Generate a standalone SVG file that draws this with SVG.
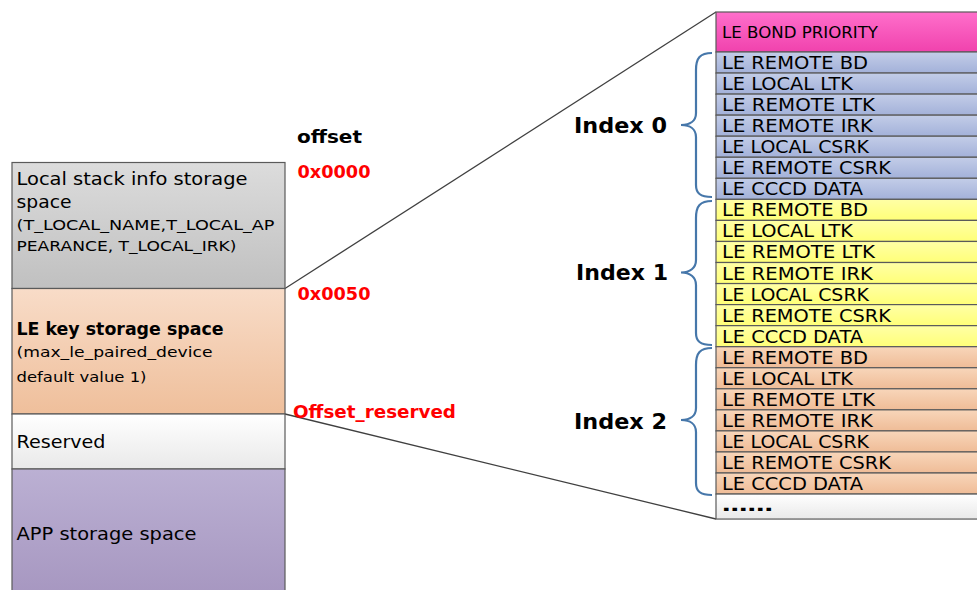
<svg xmlns="http://www.w3.org/2000/svg" width="977" height="590" viewBox="0 0 977 590">
  <style>
    .cell { stroke: #5a5a5a; stroke-width: 1.2; }
    .txt { font-family: "DejaVu Sans", "Liberation Sans", sans-serif; fill: #000; }
    .row { font-size: 17px; }
    .small { font-size: 14.5px; }
    .main { font-size: 17px; }
    .bold { font-weight: bold; }
    .red { fill: #ff0000; }
    .idx { font-size: 22px; font-weight: bold; }
    .brace { fill: none; stroke: #4677aa; stroke-width: 2.2; }
    .link { fill: none; stroke: #404040; stroke-width: 1.3; }
  </style>
  <defs>
    <linearGradient id="gGray" x1="0" y1="0" x2="0" y2="1"><stop offset="0" stop-color="#dcdcdc"/><stop offset="1" stop-color="#c0c0c0"/></linearGradient>
    <linearGradient id="gPeach" x1="0" y1="0" x2="0" y2="1"><stop offset="0" stop-color="#f8dcc8"/><stop offset="1" stop-color="#efbf9b"/></linearGradient>
    <linearGradient id="gWhite" x1="0" y1="0" x2="0" y2="1"><stop offset="0" stop-color="#ffffff"/><stop offset="1" stop-color="#e9e9e9"/></linearGradient>
    <linearGradient id="gPurple" x1="0" y1="0" x2="0" y2="1"><stop offset="0" stop-color="#bbb0d3"/><stop offset="1" stop-color="#a595bf"/></linearGradient>
    <linearGradient id="gPink" x1="0" y1="0" x2="0" y2="1"><stop offset="0" stop-color="#ff6fcb"/><stop offset="1" stop-color="#f042ad"/></linearGradient>
    <linearGradient id="gBlue" x1="0" y1="0" x2="0" y2="1"><stop offset="0" stop-color="#c3cde8"/><stop offset="1" stop-color="#a3b1d9"/></linearGradient>
    <linearGradient id="gYellow" x1="0" y1="0" x2="0" y2="1"><stop offset="0" stop-color="#ffffa6"/><stop offset="1" stop-color="#ffff78"/></linearGradient>
    <linearGradient id="gOrange" x1="0" y1="0" x2="0" y2="1"><stop offset="0" stop-color="#f8d6ba"/><stop offset="1" stop-color="#efbc97"/></linearGradient>
  </defs>

  <!-- connectors: zoom lines and index braces -->
  <g id="connectors">
    <path class="link" d="M285,288.5 L716,12"/>
    <path class="link" d="M285,414 L716,519"/>
    <path class="brace" d="M712,53 C700,53 696,58 696,70 L696,113 C696,121 690,125 681,125 C690,125 696,129 696,137 L696,185 C696,193 700,197 712,197"/>
    <path class="brace" d="M712,201 C700,201 696,206 696,218 L696,260 C696,268 690,272.5 681,272.5 C690,272.5 696,277 696,285 L696,333 C696,341 700,345 712,345"/>
    <path class="brace" d="M712,348 C700,348 696,353 696,365 L696,408 C696,416 690,420 681,420 C690,420 696,424 696,432 L696,483 C696,491 700,495 712,495"/>
  </g>

  <!-- memory map (left column) -->
  <g id="local-stack">
    <rect class="cell" x="12" y="162.5" width="273" height="126" fill="url(#gGray)"/>
    <text class="txt main" x="16.5" y="185" textLength="231" lengthAdjust="spacingAndGlyphs">Local stack info storage</text>
    <text class="txt main" x="16.5" y="208" textLength="55" lengthAdjust="spacingAndGlyphs">space</text>
    <text class="txt small" x="16.5" y="230" textLength="258" lengthAdjust="spacingAndGlyphs">(T_LOCAL_NAME,T_LOCAL_AP</text>
    <text class="txt small" x="16.5" y="250.5" textLength="220" lengthAdjust="spacingAndGlyphs">PEARANCE, T_LOCAL_IRK)</text>
  </g>
  <g id="le-key">
    <rect class="cell" x="12" y="288.5" width="273" height="125.5" fill="url(#gPeach)"/>
    <text class="txt main bold" x="16.5" y="335" textLength="207" lengthAdjust="spacingAndGlyphs">LE key storage space</text>
    <text class="txt small" x="16.5" y="357" textLength="196" lengthAdjust="spacingAndGlyphs">(max_le_paired_device</text>
    <text class="txt small" x="16.5" y="382" textLength="130" lengthAdjust="spacingAndGlyphs">default value 1)</text>
  </g>
  <g id="reserved">
    <rect class="cell" x="12" y="414" width="273" height="55" fill="url(#gWhite)"/>
    <text class="txt main" x="16.5" y="448" textLength="89" lengthAdjust="spacingAndGlyphs">Reserved</text>
  </g>
  <g id="app-storage">
    <rect class="cell" x="12" y="469" width="273" height="135" fill="url(#gPurple)"/>
    <text class="txt main" x="16.5" y="540" textLength="180" lengthAdjust="spacingAndGlyphs">APP storage space</text>
  </g>

  <!-- offsets -->
  <g id="offsets">
    <text class="txt bold" x="297" y="143" font-size="18" textLength="65" lengthAdjust="spacingAndGlyphs">offset</text>
    <text class="txt bold red" x="297.5" y="178" font-size="17" textLength="73" lengthAdjust="spacingAndGlyphs">0x0000</text>
    <text class="txt bold red" x="297.5" y="300" font-size="17" textLength="73" lengthAdjust="spacingAndGlyphs">0x0050</text>
    <text class="txt bold red" x="293" y="418" font-size="17" textLength="163" lengthAdjust="spacingAndGlyphs">Offset_reserved</text>
  </g>

  <!-- index labels -->
  <g id="index-labels">
    <text class="txt idx" x="574" y="133" textLength="93" lengthAdjust="spacingAndGlyphs">Index 0</text>
    <text class="txt idx" x="576" y="280" textLength="92" lengthAdjust="spacingAndGlyphs">Index 1</text>
    <text class="txt idx" x="574" y="429" textLength="93" lengthAdjust="spacingAndGlyphs">Index 2</text>
  </g>

  <!-- key table (right) -->
  <g id="bond-priority">
    <rect class="cell" x="716" y="12" width="275" height="40" fill="url(#gPink)"/>
    <text class="txt" x="722" y="38" font-size="15" textLength="156" lengthAdjust="spacingAndGlyphs">LE BOND PRIORITY</text>
  </g>

  <g id="index0-rows">
    <rect class="cell" x="716" y="52" width="275" height="21.05" fill="url(#gBlue)"/>
    <rect class="cell" x="716" y="73.05" width="275" height="21.05" fill="url(#gBlue)"/>
    <rect class="cell" x="716" y="94.1" width="275" height="21.05" fill="url(#gBlue)"/>
    <rect class="cell" x="716" y="115.15" width="275" height="21.05" fill="url(#gBlue)"/>
    <rect class="cell" x="716" y="136.2" width="275" height="21.05" fill="url(#gBlue)"/>
    <rect class="cell" x="716" y="157.25" width="275" height="21.05" fill="url(#gBlue)"/>
    <rect class="cell" x="716" y="178.3" width="275" height="21.05" fill="url(#gBlue)"/>
    <text class="txt row" x="722" y="69" textLength="146" lengthAdjust="spacingAndGlyphs">LE REMOTE BD</text>
    <text class="txt row" x="722" y="90.05" textLength="131" lengthAdjust="spacingAndGlyphs">LE LOCAL LTK</text>
    <text class="txt row" x="722" y="111.1" textLength="153" lengthAdjust="spacingAndGlyphs">LE REMOTE LTK</text>
    <text class="txt row" x="722" y="132.15" textLength="151" lengthAdjust="spacingAndGlyphs">LE REMOTE IRK</text>
    <text class="txt row" x="722" y="153.2" textLength="147" lengthAdjust="spacingAndGlyphs">LE LOCAL CSRK</text>
    <text class="txt row" x="722" y="174.25" textLength="169" lengthAdjust="spacingAndGlyphs">LE REMOTE CSRK</text>
    <text class="txt row" x="722" y="195.3" textLength="141" lengthAdjust="spacingAndGlyphs">LE CCCD DATA</text>
  </g>

  <g id="index1-rows">
    <rect class="cell" x="716" y="199.35" width="275" height="21.05" fill="url(#gYellow)"/>
    <rect class="cell" x="716" y="220.4" width="275" height="21.05" fill="url(#gYellow)"/>
    <rect class="cell" x="716" y="241.45" width="275" height="21.05" fill="url(#gYellow)"/>
    <rect class="cell" x="716" y="262.5" width="275" height="21.05" fill="url(#gYellow)"/>
    <rect class="cell" x="716" y="283.55" width="275" height="21.05" fill="url(#gYellow)"/>
    <rect class="cell" x="716" y="304.6" width="275" height="21.05" fill="url(#gYellow)"/>
    <rect class="cell" x="716" y="325.65" width="275" height="21.05" fill="url(#gYellow)"/>
    <text class="txt row" x="722" y="216.35" textLength="146" lengthAdjust="spacingAndGlyphs">LE REMOTE BD</text>
    <text class="txt row" x="722" y="237.4" textLength="131" lengthAdjust="spacingAndGlyphs">LE LOCAL LTK</text>
    <text class="txt row" x="722" y="258.45" textLength="153" lengthAdjust="spacingAndGlyphs">LE REMOTE LTK</text>
    <text class="txt row" x="722" y="279.5" textLength="151" lengthAdjust="spacingAndGlyphs">LE REMOTE IRK</text>
    <text class="txt row" x="722" y="300.55" textLength="147" lengthAdjust="spacingAndGlyphs">LE LOCAL CSRK</text>
    <text class="txt row" x="722" y="321.6" textLength="169" lengthAdjust="spacingAndGlyphs">LE REMOTE CSRK</text>
    <text class="txt row" x="722" y="342.65" textLength="141" lengthAdjust="spacingAndGlyphs">LE CCCD DATA</text>
  </g>

  <g id="index2-rows">
    <rect class="cell" x="716" y="346.7" width="275" height="21.05" fill="url(#gOrange)"/>
    <rect class="cell" x="716" y="367.75" width="275" height="21.05" fill="url(#gOrange)"/>
    <rect class="cell" x="716" y="388.8" width="275" height="21.05" fill="url(#gOrange)"/>
    <rect class="cell" x="716" y="409.85" width="275" height="21.05" fill="url(#gOrange)"/>
    <rect class="cell" x="716" y="430.9" width="275" height="21.05" fill="url(#gOrange)"/>
    <rect class="cell" x="716" y="451.95" width="275" height="21.05" fill="url(#gOrange)"/>
    <rect class="cell" x="716" y="473" width="275" height="21.05" fill="url(#gOrange)"/>
    <text class="txt row" x="722" y="363.7" textLength="146" lengthAdjust="spacingAndGlyphs">LE REMOTE BD</text>
    <text class="txt row" x="722" y="384.75" textLength="131" lengthAdjust="spacingAndGlyphs">LE LOCAL LTK</text>
    <text class="txt row" x="722" y="405.8" textLength="153" lengthAdjust="spacingAndGlyphs">LE REMOTE LTK</text>
    <text class="txt row" x="722" y="426.85" textLength="151" lengthAdjust="spacingAndGlyphs">LE REMOTE IRK</text>
    <text class="txt row" x="722" y="447.9" textLength="147" lengthAdjust="spacingAndGlyphs">LE LOCAL CSRK</text>
    <text class="txt row" x="722" y="468.95" textLength="169" lengthAdjust="spacingAndGlyphs">LE REMOTE CSRK</text>
    <text class="txt row" x="722" y="490" textLength="141" lengthAdjust="spacingAndGlyphs">LE CCCD DATA</text>
  </g>

  <g id="more-rows">
    <rect class="cell" x="716" y="494.05" width="275" height="25" fill="url(#gWhite)"/>
    <text class="txt row bold" x="722" y="511" textLength="51" lengthAdjust="spacingAndGlyphs">……</text>
  </g>
</svg>
